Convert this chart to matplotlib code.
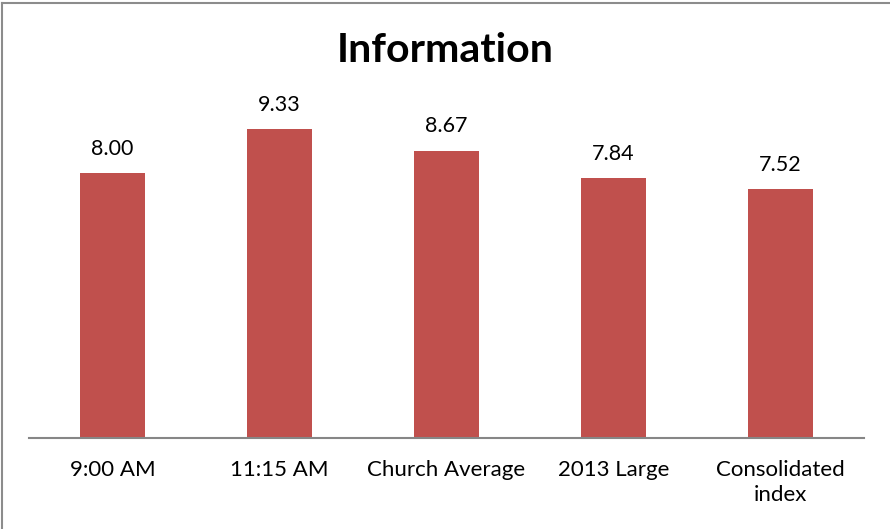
import matplotlib
matplotlib.use("Agg")
import matplotlib.pyplot as plt
from matplotlib.lines import Line2D

categories = ["9:00 AM", "11:15 AM", "Church Average", "2013 Large", "Consolidated\nindex"]
values = [8.00, 9.33, 8.67, 7.84, 7.52]

plt.rcParams['font.family'] = ['Lato', 'DejaVu Sans']

W, H = 890, 529
fig = plt.figure(figsize=(W / 100, H / 100), dpi=100)

# chart border: only the left and top edges show in the original
fig.lines.append(Line2D([1.5 / W, 1.5 / W], [0, 1 - 2.5 / H], transform=fig.transFigure,
                        color="#8c8c8c", linewidth=1.5))
fig.lines.append(Line2D([1.5 / W, 1], [1 - 2.5 / H, 1 - 2.5 / H], transform=fig.transFigure,
                        color="#8c8c8c", linewidth=1.5))

left, right, bottom, top = 29, 864, 438, 107
ax = fig.add_axes([left / W, 1 - bottom / H, (right - left) / W, (bottom - top) / H])

x = range(len(categories))
bars = ax.bar(x, values, width=0.395, color="#c0504d")
ax.set_xlim(-0.5, len(categories) - 0.5)
ax.set_ylim(0, 10)

for b, v in zip(bars, values):
    ax.annotate(f"{v:.2f}", (b.get_x() + b.get_width() / 2, v), xytext=(0, 10.5),
                textcoords="offset points", ha="center", va="bottom", fontsize=15.5)

ax.set_xticks(list(x))
ax.set_xticklabels(categories, fontsize=16, linespacing=1.3, va="top")
ax.tick_params(axis="x", length=0, pad=16)
ax.set_yticks([])
for s in ["top", "right", "left"]:
    ax.spines[s].set_visible(False)
ax.spines["bottom"].set_color("#868686")
ax.spines["bottom"].set_linewidth(1.5)

fig.text(445 / W, 1 - 51 / H, "Information", ha="center", va="center",
         fontsize=29.5, fontweight="bold")

fig.savefig("out.png", dpi=100)
